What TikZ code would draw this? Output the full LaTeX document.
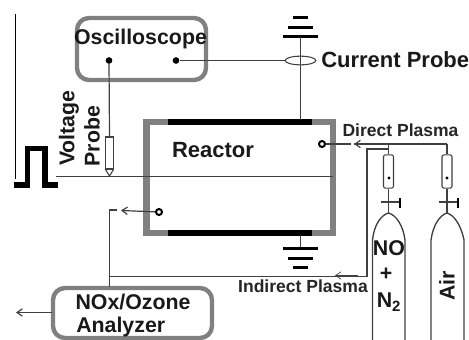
\documentclass[tikz,border=0pt]{standalone}
\usepackage{fontspec}
\setmainfont{Liberation Sans}
\usetikzlibrary{arrows.meta,shapes.geometric}
\definecolor{boxgray}{gray}{0.5}
\definecolor{wire}{gray}{0.25}
\tikzset{
  x=0.75pt,y=-0.75pt,
  grayframe/.style={draw=boxgray,line width=3.3pt,rounded corners=9pt},
  wireline/.style={draw=wire,line width=0.9pt},
  plate/.style={draw=black,line width=4.6pt},
  bar/.style={draw=black,line width=2.8pt},
  lbl/.style={inner sep=0pt,font=\fontsize{16}{18}\selectfont\bfseries,text=black!90},
  biglbl/.style={inner sep=0pt,font=\fontsize{16.5}{18}\selectfont\bfseries,text=black!90},
  smalllbl/.style={inner sep=0pt,font=\fontsize{13.15}{15}\selectfont\bfseries,text=black!85},
  dot/.style={circle,fill=black,inner sep=0pt,minimum size=5pt},
  port/.style={circle,draw=black,fill=white,line width=1.5pt,inner sep=0pt,minimum size=4.5pt},
  tip/.style={-{Straight Barb[length=4pt,width=5.5pt]}},
  valve/.style={draw=wire,line width=0.8pt,fill=white,rounded corners=1.5pt,minimum width=7.5pt,minimum height=25pt,inner sep=0pt},
  tinydot/.style={circle,fill=black,inner sep=0pt,minimum size=2.6pt},
}
\begin{document}
\begin{tikzpicture}
\useasboundingbox (0,0) rectangle (469,340);
\fill[white] (0,0) rectangle (469,340);
% left margin rule
\coordinate (ruleA) at (15.5,14); \coordinate (ruleB) at (15.5,179);
\draw[black,line width=0.7pt] (ruleA) -- (ruleB);
% oscilloscope
\draw[grayframe] (77,18) rectangle (206,80);
\node[lbl,anchor=center] (osc) at (140.5,39) {Oscilloscope};
\node[dot] (oscA) at (109,60.5) {};
\node[dot] (oscB) at (176,60.5) {};
% current probe + ground top
\coordinate (gTop) at (300.5,37);
\node[draw=wire,line width=0.8pt,ellipse,minimum width=23pt,minimum height=6.5pt,inner sep=0pt] (cprobe) at (300.5,60.5) {};
\node[biglbl,anchor=west] (cplabel) at (321,60) {Current Probe};
\draw[bar] (283,36.5) -- (318,36.5);
\draw[bar] (288,27.5) -- (313,27.5);
\draw[bar] (293,17.5) -- (308,17.5);
\draw[wireline] (oscB) -- (cprobe.west);
% reactor
\coordinate (rTL) at (146.5,122); \coordinate (rBR) at (333,233);
\draw[draw=boxgray,line width=4.6pt] (rTL) rectangle (rBR);
\draw[plate] (168,122) -- (312,122);
\draw[plate] (168,233) -- (312,233);
\node[biglbl,anchor=center] (reactor) at (213,150) {Reactor};
\coordinate (topPlate) at (300.5,120);
\coordinate (botPlate) at (300.5,235);
\draw[wireline] (gTop) -- (topPlate);
% bottom ground
\coordinate (gBot) at (300.5,248.5);
\draw[wireline] (botPlate) -- (gBot);
\draw[bar] (283,248.5) -- (318,248.5);
\draw[bar] (288,258.5) -- (313,258.5);
\draw[bar] (293,267.5) -- (308,267.5);
% voltage probe
\node[draw=wire,line width=0.8pt,fill=white,minimum width=6.5pt,minimum height=24pt,inner sep=0pt] (vprobe) at (109.5,153) {};
\coordinate (vA) at (105.2,169); \coordinate (vB) at (113.8,169); \coordinate (vC) at (109.5,176);
\draw[draw=wire,line width=0.8pt] (vA) -- (vC) -- (vB);
\draw[wireline] (oscA) -- (vprobe.north);
\node[lbl,rotate=90,anchor=center] (vlabel) at (69,128) {Voltage};
\node[lbl,rotate=90,anchor=center] (plabel) at (92,136) {Probe};
% pulse
\coordinate (pS) at (14,185); \coordinate (pE) at (58,185);
\draw[black,line width=3.9pt,line join=miter] (pS) -- (27.5,185) -- (27.5,148.5) -- (45,148.5) -- (45,185) -- (pE);
\coordinate (midL) at (56,176.5); \coordinate (midR) at (333,176.5);
\draw[draw=wire,line width=1pt] (midL) -- (midR);
% direct plasma
\node[port] (pD) at (322,144) {};
\coordinate (jAir) at (447,144);
\coordinate (jNO) at (388.5,144);
\coordinate (dTip) at (354,144);
\node[smalllbl,anchor=center] (dlabel) at (400.5,130.5) {Direct Plasma};
% gas valves
\node[valve] (vNO) at (388.5,171.5) {};
\node[valve] (vAir) at (447,171.5) {};
\node[tinydot] at (389,178) {};
\node[tinydot] at (447,178) {};
\draw[wireline] (jAir) -- (dTip);
\draw[wireline,tip] (dTip) ++(5,0) -- (dTip);
\draw[wireline] (dTip) ++(-3,0) -- (pD);
\draw[wireline] (jAir) -- (vAir.north);
\draw[wireline] (jNO) -- (vNO.north);
% cylinders
\coordinate (topNO) at (388.5,213);
\coordinate (topAir) at (447,213);
\draw[wireline] (vNO.south) -- (topNO);
\draw[wireline] (vAir.south) -- (topAir);
\draw[wireline] (381,202) -- (400,202);
\draw[wireline] (439,202) -- (458,202);
\draw[black,line width=1.5pt] (400,197.5) -- (400,207.5);
\draw[black,line width=1.5pt] (458,197.5) -- (458,207.5);
\draw[draw=wire,line width=1pt] (372.5,340) -- (372.5,240) .. controls (374,225) and (381,215) .. (topNO) .. controls (396,215) and (403,225) .. (405,240) -- (405,340);
\draw[draw=wire,line width=1pt] (431,340) -- (431,240) .. controls (433,225) and (440,215) .. (topAir) .. controls (454,215) and (461,225) .. (464,240) -- (464,340);
\node[lbl,anchor=center] (no) at (389,248.5) {NO};
\node[lbl,anchor=center] (plus) at (386,274) {+};
\node[lbl,anchor=center] (n2) at (389,302) {N$_{\mathbf 2}$};
\node[lbl,rotate=90,anchor=center] (air) at (447,286) {Air};
% indirect plasma
\coordinate (iA) at (388.5,149);
\coordinate (iB) at (367,149);
\coordinate (iC) at (367,276.5);
\coordinate (iD) at (109.5,276.5);
\draw[wireline] (iA) -- (iB) -- (iC) -- (iD);
\node[smalllbl,anchor=center] (ilabel) at (303,286.5) {Indirect Plasma};
\coordinate (iaS) at (358,275.5); \coordinate (iaE) at (335,275.5);
\draw[draw=wire,line width=0.5pt,tip] (iaS) -- (iaE);
% analyzer
\draw[grayframe] (53,288) rectangle (212,338);
\node[lbl,anchor=center] (a1) at (133,302) {NOx/Ozone};
\node[lbl,anchor=west] (a2) at (76,327) {Analyzer};
\coordinate (anTop) at (109.5,286.5);
\coordinate (anL) at (52,312.5);
\coordinate (anOut) at (16,312.5);
\draw[wireline,tip] (anL) -- (anOut);
% sample line
\node[port] (pI) at (159,212) {};
\coordinate (sA) at (121,210.5);
\coordinate (sB) at (109.5,210);
\draw[wireline,tip] (pI) -- (sA);
\draw[wireline] (117,210) -- (sB) -- (anTop);
\end{tikzpicture}
\end{document}
